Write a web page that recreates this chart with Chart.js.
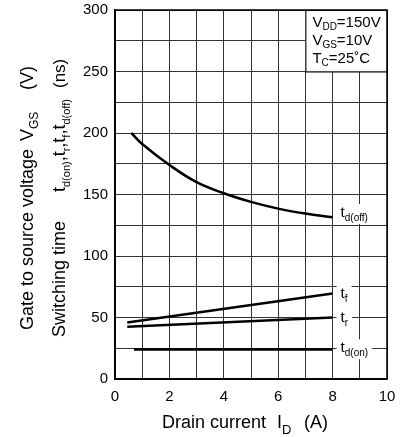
<!DOCTYPE html>
<html>
<head>
<meta charset="utf-8">
<script src="https://cdn.jsdelivr.net/npm/chart.js@4"></script>
<style>
  body { margin: 0; background: #fff; }
  #wrap { width: 408px; height: 437px; }
</style>
</head>
<body>
<div id="wrap"><canvas id="myChart"></canvas></div>
<script>
// values
const offX = [0.6, 1, 2, 3, 4, 5, 6, 7, 8];
const offY = [200, 191, 174, 160, 151, 144, 138.5, 134.5, 131.5];
const tfX = [0.45, 8];
const tfY = [46, 69.5];
const trX = [0.45, 8];
const trY = [42.5, 50];
const onX = [0.7, 8];
const onY = [24, 24];

const xTicks = [0, 2, 4, 6, 8, 10];
const yTicks = [0, 50, 100, 150, 200, 250, 300];

const FONT = "'Liberation Sans', Arial, sans-serif";

function pts(xs, ys) {
  return xs.map((x, i) => ({ x: x, y: ys[i] }));
}

function series(xs, ys, curved) {
  return {
    data: pts(xs, ys),
    showLine: true,
    borderColor: '#000',
    borderWidth: 2.5,
    pointRadius: 0,
    fill: false,
    tension: curved ? 0.4 : 0
  };
}

// draws text pieces, some as subscripts, returns width
function rich(ctx, parts, x, y, size, subSize, subDrop) {
  let cx = x;
  parts.forEach(p => {
    ctx.font = (p.sub ? subSize : size) + 'px ' + FONT;
    ctx.fillText(p.t, cx, y + (p.sub ? subDrop : 0));
    cx += ctx.measureText(p.t).width;
  });
  return cx - x;
}

function richWidth(ctx, parts, size, subSize) {
  let w = 0;
  parts.forEach(p => {
    ctx.font = (p.sub ? subSize : size) + 'px ' + FONT;
    w += ctx.measureText(p.t).width;
  });
  return w;
}

const decorations = {
  id: 'decorations',
  afterDraw(chart) {
    const ctx = chart.ctx;
    const xs = chart.scales.x, ys = chart.scales.y;
    const a = chart.chartArea;
    ctx.save();
    ctx.fillStyle = '#000';
    ctx.textBaseline = 'alphabetic';
    ctx.textAlign = 'left';

    // condition box in the top right corner
    const bx = xs.getPixelForValue(7), by = ys.getPixelForValue(300);
    const bw = xs.getPixelForValue(10) - bx, bh = ys.getPixelForValue(250) - by;
    ctx.fillStyle = '#fff';
    ctx.fillRect(bx, by, bw, bh);
    ctx.strokeStyle = '#000';
    ctx.lineWidth = 1;
    ctx.strokeRect(bx + 0.5, by + 0.5, bw, bh);
    ctx.fillStyle = '#000';
    rich(ctx, [{t: 'V'}, {t: 'DD', sub: true}, {t: '=150V'}], bx + 7, by + 17, 15, 10, 3);
    rich(ctx, [{t: 'V'}, {t: 'GS', sub: true}, {t: '=10V'}], bx + 7, by + 35, 15, 10, 3);
    rich(ctx, [{t: 'T'}, {t: 'C', sub: true}, {t: '=25˚C'}], bx + 7, by + 53, 15, 10, 3);

    // curve labels with white backing
    const labels = [
      { parts: [{t: 't'}, {t: 'd(off)', sub: true}], v: 135 },
      { parts: [{t: 't'}, {t: 'f', sub: true}], v: 69 },
      { parts: [{t: 't'}, {t: 'r', sub: true}], v: 50 },
      { parts: [{t: 't'}, {t: 'd(on)', sub: true}], v: 25 }
    ];
    const lx = xs.getPixelForValue(8) + 8;
    labels.forEach(l => {
      const w = richWidth(ctx, l.parts, 15, 10);
      const cy = ys.getPixelForValue(l.v);
      ctx.fillStyle = '#fff';
      ctx.fillRect(lx - 4, cy - 9, w + 8, 20);
      ctx.fillStyle = '#000';
      rich(ctx, l.parts, lx, cy + 4, 15, 10, 4);
    });

    // plot frame
    ctx.strokeStyle = '#000';
    ctx.lineWidth = 1.5;
    ctx.strokeRect(a.left, a.top, a.right - a.left, a.bottom - a.top);

    // x title
    rich(ctx, [{t: 'Drain current'}], 162, 428, 18, 12, 6);
    rich(ctx, [{t: 'I'}, {t: 'D', sub: true}], 277, 428, 18, 13, 6);
    rich(ctx, [{t: '(A)'}], 304, 428, 18, 12, 6);

    // y titles, rotated
    ctx.rotate(-Math.PI / 2);
    rich(ctx, [{t: 'Gate to source voltage'}], -330, 33, 18, 12, 5);
    rich(ctx, [{t: 'V'}, {t: 'GS', sub: true}], -141, 33, 18, 12, 5);
    rich(ctx, [{t: '(V)'}], -90, 33, 18, 12, 5);
    rich(ctx, [{t: 'Switching time'}], -337, 65, 18, 12, 5);
    rich(ctx, [{t: 't'}, {t: 'd(on)', sub: true}, {t: ','}, {t: 't'}, {t: 'r', sub: true}, {t: ','},
               {t: 't'}, {t: 'f', sub: true}, {t: ','}, {t: 't'}, {t: 'd(off)', sub: true}], -192, 65, 18, 11, 5);
    rich(ctx, [{t: '(ns)'}], -88, 65, 17, 12, 5);
    ctx.restore();
  }
};

new Chart('myChart', {
  type: 'scatter',
  data: {
    datasets: [
      series(offX, offY, true),
      series(tfX, tfY, false),
      series(trX, trY, false),
      series(onX, onY, false)
    ]
  },
  options: {
    responsive: true,
    maintainAspectRatio: false,
    animation: false,
    layout: { padding: { top: 10, right: 21, left: 0, bottom: 0 } },
    plugins: {
      legend: { display: false },
      tooltip: { enabled: false }
    },
    scales: {
      x: {
        type: 'linear',
        min: 0,
        max: 10,
        afterFit: s => { s.height = 58; s.paddingLeft = 0; s.paddingRight = 0; },
        grid: { color: '#333', lineWidth: 1, drawTicks: false },
        border: { color: '#000', width: 1.5 },
        ticks: {
          stepSize: 1,
          autoSkip: false,
          maxRotation: 0,
          padding: 9,
          color: '#000',
          font: { family: FONT, size: 15 },
          callback: v => xTicks.includes(v) ? String(v) : ''
        }
      },
      y: {
        type: 'linear',
        min: 0,
        max: 300,
        afterFit: s => { s.width = 115; s.paddingTop = 0; s.paddingBottom = 0; },
        grid: { color: '#333', lineWidth: 1, drawTicks: false },
        border: { color: '#000', width: 1.5 },
        ticks: {
          stepSize: 25,
          autoSkip: false,
          padding: 7,
          color: '#000',
          font: { family: FONT, size: 15 },
          callback: v => yTicks.includes(v) ? String(v) : ''
        }
      }
    }
  },
  plugins: [decorations]
});
</script>
</body>
</html>
